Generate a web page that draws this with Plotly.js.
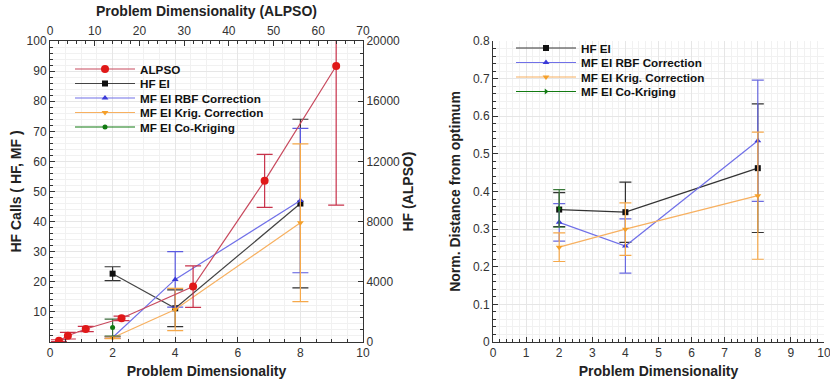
<!DOCTYPE html>
<html><head><meta charset="utf-8">
<script src="https://cdn.plot.ly/plotly-3.0.1.min.js"></script>
<style>html,body{margin:0;padding:0;background:#fff}#c{width:830px;height:383px}</style>
</head><body><div id="c"></div>
<script>
// ---- data: left panel (HF calls) ----
const dimsMF = [2, 4, 8];
const alpsoDims = [2, 4, 8, 16, 32, 48, 64];
const alpsoHF = [90, 420, 865, 1575, 3680, 10710, 18340];
const alpsoErr = [60, 220, 170, 150, 1380, 1760, 9240];
const hfEiCalls = [22.7, 11.2, 46];
const hfEiCallsErr = [2.3, 6.1, 28];
const rbfCalls = [1.5, 20.8, 47];
const rbfCallsErr = [0.3, 9.2, 24];
const krigCalls = [1.4, 10.8, 39.6];
const krigCallsErr = [0.3, 7.0, 26.2];
const coKrigDims = [2];
const coKrigCalls = [4.8];
const coKrigCallsErr = [2.8];
// ---- data: right panel (normalised distance) ----
const hfEiDist = [0.352, 0.345, 0.462];
const hfEiDistErr = [0.045, 0.08, 0.171];
const rbfDist = [0.318, 0.255, 0.535];
const rbfDistErr = [0.05, 0.072, 0.161];
const krigDist = [0.252, 0.30, 0.389];
const krigDistErr = [0.038, 0.07, 0.169];
const coKrigDist = [0.355];
const coKrigDistErr = [0.05];
// ---- tick labels ----
const leftYTicks = [10, 20, 30, 40, 50, 60, 70, 80, 90, 100];
const rightYTicks = [0, 4000, 8000, 12000, 16000, 20000];
const seriesNames = ['ALPSO', 'HF EI', 'MF EI RBF Correction', 'MF EI Krig. Correction', 'MF EI Co-Kriging'];

const FONT = 'Liberation Sans, Arial, sans-serif';
const C = {red:'#e01818', redLine:'#c84a5e', black:'#111111', blue:'#3a3ad8', blueLine:'#7070e8',
           orange:'#f5a02a', orangeLine:'#f7b060', green:'#127a12'};

function eb(arr, color, w){ return {type:'data', array:arr, visible:true, color:color, thickness:1.2, width:w}; }

const traces = [
  {x:alpsoDims, y:alpsoHF, xaxis:'x2', yaxis:'y2', name:seriesNames[0], mode:'lines+markers',
   line:{color:C.redLine, width:1.2}, marker:{color:C.red, size:8, symbol:'circle'},
   error_y:eb(alpsoErr, '#c8324a', 8), legend:'legend'},
  {x:dimsMF, y:hfEiCalls, xaxis:'x', yaxis:'y', name:seriesNames[1], mode:'lines+markers',
   line:{color:'#444', width:1.2}, marker:{color:C.black, size:6, symbol:'square'},
   error_y:eb(hfEiCallsErr, '#333', 8), legend:'legend2'},
  {x:dimsMF, y:rbfCalls, xaxis:'x', yaxis:'y', name:seriesNames[2], mode:'lines+markers',
   line:{color:C.blueLine, width:1.2}, marker:{color:C.blue, size:6, symbol:'triangle-up'},
   error_y:eb(rbfCallsErr, '#5a5ae0', 8), legend:'legend3'},
  {x:dimsMF, y:krigCalls, xaxis:'x', yaxis:'y', name:seriesNames[3], mode:'lines+markers',
   line:{color:C.orangeLine, width:1.2}, marker:{color:C.orange, size:6, symbol:'triangle-down'},
   error_y:eb(krigCallsErr, '#f5a84a', 8), legend:'legend4'},
  {x:coKrigDims, y:coKrigCalls, xaxis:'x', yaxis:'y', name:seriesNames[4], mode:'lines+markers',
   line:{color:C.green, width:1.2}, marker:{color:C.green, size:5, symbol:'circle'},
   error_y:eb(coKrigCallsErr, '#3a6a3a', 8), legend:'legend5'},
  // right panel
  {x:dimsMF, y:hfEiDist, xaxis:'x3', yaxis:'y3', name:seriesNames[1], mode:'lines+markers',
   line:{color:'#333', width:1.2}, marker:{color:C.black, size:6, symbol:'square'},
   error_y:eb(hfEiDistErr, '#333', 6), legend:'legend6'},
  {x:dimsMF, y:rbfDist, xaxis:'x3', yaxis:'y3', name:seriesNames[2], mode:'lines+markers',
   line:{color:C.blueLine, width:1.2}, marker:{color:C.blue, size:6, symbol:'triangle-up'},
   error_y:eb(rbfDistErr, '#6a6ae0', 6), legend:'legend7'},
  {x:dimsMF, y:krigDist, xaxis:'x3', yaxis:'y3', name:seriesNames[3], mode:'lines+markers',
   line:{color:C.orangeLine, width:1.2}, marker:{color:C.orange, size:6, symbol:'triangle-down'},
   error_y:eb(krigDistErr, '#f5a84a', 6), legend:'legend8'},
  {x:coKrigDims, y:coKrigDist, xaxis:'x3', yaxis:'y3', name:seriesNames[4], mode:'lines+markers',
   line:{color:C.green, width:1.2}, marker:{color:C.green, size:5, symbol:'triangle-right'},
   error_y:eb(coKrigDistErr, '#3a7a3a', 6), legend:'legend9'}
];

const tickFont = {family:FONT, size:12, color:'#333'};
const titleFont = {family:FONT, size:14, color:'#222', weight:'bold'};
const yDom = [41/383, 342/383];
const xDomL = [50/830, 363/830];
const xDomR = [493/830, 824/830];
const common = {ticks:'inside', ticklen:5, tickcolor:'#333', linecolor:'#333', linewidth:1,
  tickfont:tickFont, zeroline:false, fixedrange:true, ticklabeloverflow:'allow'};

const layout = {
  width:830, height:383, margin:{l:0, r:0, t:0, b:0}, paper_bgcolor:'#fff', plot_bgcolor:'#fff',
  showlegend:true, font:{family:FONT},
  xaxis: Object.assign({}, common, {domain:xDomL, range:[0,10], dtick:2, anchor:'y', showline:true,
    showgrid:true, gridcolor:'#e6e6e6',
    minor:{dtick:0.5, ticks:'inside', ticklen:3, showgrid:true, gridcolor:'#f1f1f1', tickcolor:'#333'},
    title:{text:'Problem Dimensionality', font:titleFont, standoff:6}}),
  yaxis: Object.assign({}, common, {domain:yDom, range:[0,100], tickvals:leftYTicks, anchor:'x', showline:true,
    showgrid:true, gridcolor:'#e6e6e6',
    minor:{dtick:2, ticks:'inside', ticklen:3, showgrid:true, gridcolor:'#f1f1f1', tickcolor:'#333'},
    title:{text:'HF Calls ( HF, MF )', font:titleFont, standoff:1}}),
  xaxis2: Object.assign({}, common, {overlaying:'x', side:'top', anchor:'y', range:[0,70], dtick:10,
    showline:true, showgrid:false,
    minor:{dtick:2, ticks:'inside', ticklen:3, tickcolor:'#333'},
    title:{text:'Problem Dimensionality (ALPSO)', font:titleFont, standoff:4}}),
  yaxis2: Object.assign({}, common, {overlaying:'y', side:'right', anchor:'x', range:[0,20000], tickvals:rightYTicks,
    tickformat:'d', showline:true, showgrid:false,
    minor:{dtick:800, ticks:'inside', ticklen:3, tickcolor:'#333'},
    title:{text:'HF (ALPSO)', font:titleFont, standoff:4}}),
  xaxis3: Object.assign({}, common, {domain:xDomR, range:[0,10], dtick:1, anchor:'y3', showline:true,
    showgrid:true, gridcolor:'#e6e6e6',
    minor:{dtick:0.2, ticks:'inside', ticklen:3, showgrid:true, gridcolor:'#f1f1f1', tickcolor:'#333'},
    title:{text:'Problem Dimensionality', font:titleFont, standoff:6}}),
  yaxis3: Object.assign({}, common, {domain:yDom, range:[0,0.8], dtick:0.1, anchor:'x3', showline:true,
    showgrid:true, gridcolor:'#e6e6e6',
    minor:{dtick:0.02, ticks:'inside', ticklen:3, showgrid:true, gridcolor:'#f1f1f1', tickcolor:'#333'},
    title:{text:'Norm. Distance from optimum', font:titleFont, standoff:9}})
};

// one legend box per entry so the entries can sit as tightly as in the reference
const legendSpots = [[70, 69], [70, 83.5], [70, 98], [70, 112.5], [70, 127],
                     [511, 48], [511, 62.5], [511, 77], [511, 91.5]];
legendSpots.forEach((p, i) => {
  layout[i === 0 ? 'legend' : 'legend' + (i + 1)] = {
    x:p[0]/830, y:1 - p[1]/383, xanchor:'left', yanchor:'middle', bgcolor:'rgba(255,255,255,0)',
    font:{family:FONT, size:11.7, color:'#111', weight:'bold'}, itemwidth:60
  };
});

Plotly.newPlot('c', traces, layout, {displayModeBar:false, staticPlot:true});
</script></body></html>
